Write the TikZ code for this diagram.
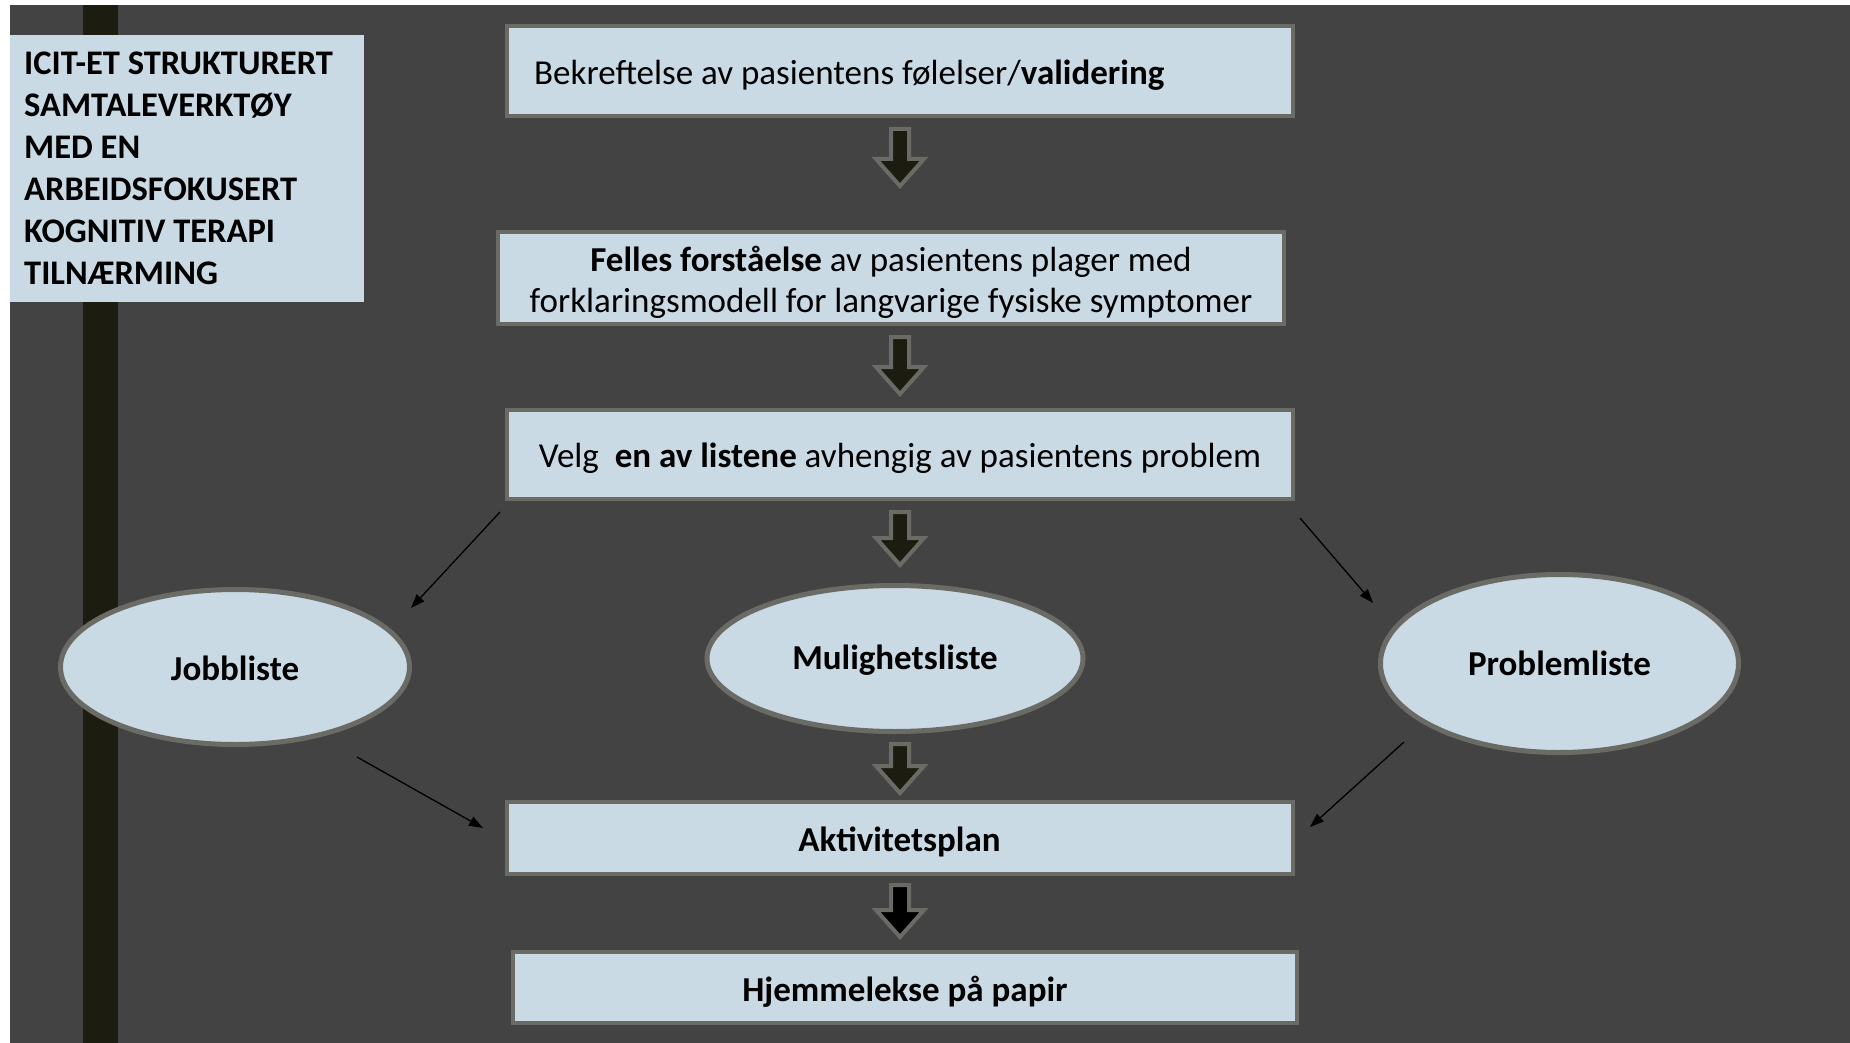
\documentclass[tikz,border=0pt]{standalone}
\usepackage{fontspec}
\setmainfont{Carlito}
\usetikzlibrary{arrows.meta,shapes.geometric}
\definecolor{bgc}{HTML}{434343}
\definecolor{boxc}{HTML}{C9DAE5}
\definecolor{edgec}{HTML}{6B6B66}
\definecolor{barc}{HTML}{1C1C10}
\tikzset{
  box/.style={draw=edgec, line width=4pt, fill=boxc, inner sep=0pt},
  boxtext/.style={inner sep=0pt, text=black, align=center, font=\fontsize{35}{41}\selectfont},
  oval/.style={ellipse, draw=edgec, line width=5pt, fill=boxc, inner sep=0pt},
  ovaltext/.style={inner sep=0pt, text=black, font=\bfseries\fontsize{35}{41}\selectfont},
  thinarrow/.style={draw=black, line width=1.3pt, -{Triangle[length=14pt,width=10pt]}},
  pics/blkarrow/.style 2 args={code={
    \draw[edgec, line width=4pt, fill=#1, line join=miter]
      (-9,0) -- (9,0) -- (9,#2-27) -- (24,#2-27) -- (0,#2) -- (-24,#2-27) -- (-9,#2-27) -- cycle;
  }}
}
\begin{document}
\begin{tikzpicture}[x=1pt, y=-1pt]
\useasboundingbox (0,0) rectangle (1850,1043);
\fill[white] (0,0) rectangle (1850,1043);
\fill[bgc] (10,5) rectangle (1850,1043);
\fill[barc] (83,5) rectangle (118,1043);

\node[fill=boxc, minimum width=354pt, minimum height=267pt, inner sep=0pt] (title) at (187,168.5) {};
\node[anchor=west, inner sep=0pt, align=left, text=black, font=\bfseries\fontsize{34.5}{42}\selectfont] (titletext) at (24,168.5)
 {ICIT-ET STRUKTURERT\\SAMTALEVERKTØY\\MED EN\\ARBEIDSFOKUSERT\\KOGNITIV TERAPI\\TILNÆRMING};

\node[box, minimum width=786pt, minimum height=90pt] (b1) at (900,71) {};
\node[boxtext, anchor=west] (b1t) at ([xshift=29pt, yshift=-4pt]b1.west)
 {Bekreftelse av pasientens følelser/\textbf{validering}};
\node[box, minimum width=786pt, minimum height=92pt] (b2) at (891,278) {};
\node[boxtext] (b2t) at ([yshift=-4pt]b2.center)
 {\textbf{Felles forståelse} av pasientens plager med\\forklaringsmodell for langvarige fysiske symptomer};
\node[box, minimum width=786pt, minimum height=89pt] (b3) at (900,454.5) {};
\node[boxtext] (b3t) at ([yshift=-4pt]b3.center)
 {Velg\ \ \textbf{en av listene} avhengig av pasientens problem};
\node[box, minimum width=786pt, minimum height=72pt] (b4) at (899.5,838) {};
\node[boxtext, font=\bfseries\fontsize{35}{41}\selectfont] (b4t) at ([yshift=-4pt]b4.center) {Aktivitetsplan};
\node[box, minimum width=784pt, minimum height=71pt] (b5) at (905,987.5) {};
\node[boxtext, font=\bfseries\fontsize{35}{41}\selectfont] (b5t) at ([yshift=-4pt]b5.center) {Hjemmelekse på papir};

\node[oval, minimum width=349pt, minimum height=155pt] (job) at (235,667) {};
\node[ovaltext] (jobt) at ([yshift=-1pt]job.center) {Jobbliste};
\node[oval, minimum width=376pt, minimum height=146pt] (mul) at (895,658.5) {};
\node[ovaltext] (mult) at ([yshift=-2pt]mul.center) {Mulighetsliste};
\node[oval, minimum width=358pt, minimum height=178pt] (prob) at (1559.5,663.5) {};
\node[ovaltext] (probt) at (prob.center) {Problemliste};

\pic at (900,129) {blkarrow={barc}{57}};
\pic at (900,337) {blkarrow={barc}{57}};
\pic at (900,512) {blkarrow={barc}{53}};
\pic at (900,744) {blkarrow={barc}{49}};
\pic at (900,885) {blkarrow={black}{52}};

\coordinate (aS) at (500,512);  \coordinate (aE) at (411,608);
\coordinate (bS) at (1300,518); \coordinate (bE) at (1373,603);
\coordinate (cS) at (357,757);  \coordinate (cE) at (483,828);
\coordinate (dS) at (1404,742); \coordinate (dE) at (1310,827);
\draw[thinarrow] (aS) -- (aE);
\draw[thinarrow] (bS) -- (bE);
\draw[thinarrow] (cS) -- (cE);
\draw[thinarrow] (dS) -- (dE);
\end{tikzpicture}
\end{document}
